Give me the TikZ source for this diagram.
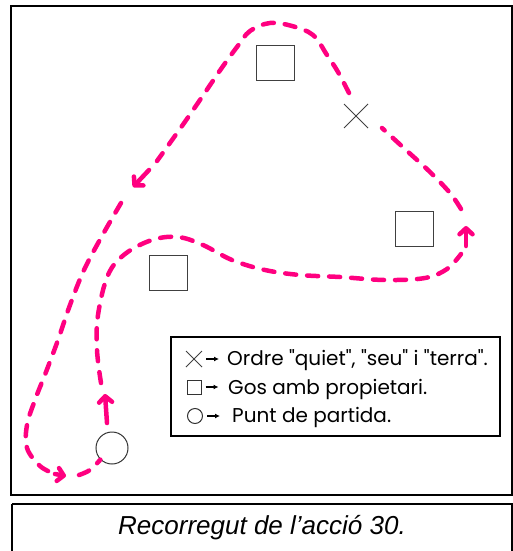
\documentclass[tikz,border=0pt]{standalone}
\usepackage{fontspec}
\setmainfont{Liberation Sans}
\newfontfamily\legendfont{Poppins}
\usetikzlibrary{arrows.meta,shapes.misc}
\definecolor{trackpink}{RGB}{255,0,128}
\definecolor{markgray}{RGB}{64,64,64}
\tikzset{
  track/.style={trackpink, line width=4.5pt, line cap=round, dash pattern=on 11pt off 11pt},
  trackarrow/.style={trackpink, line width=4.5pt, line cap=round,
    -{Straight Barb[length=6pt,width=13pt,round]}},
  owner/.style={draw=markgray, line width=1pt, minimum width=38pt, minimum height=35pt, inner sep=0pt},
  order/.style={cross out, draw=markgray, line width=1pt, minimum size=23pt, inner sep=0pt},
  origin/.style={circle, draw=black!80, line width=1pt, minimum size=32pt, inner sep=0pt},
  keyitem/.style={anchor=base west, inner sep=0pt, font=\legendfont\fontsize{20}{22}\selectfont},
}
\begin{document}
\begin{tikzpicture}[x=1pt, y=-1pt]
        \useasboundingbox (0,0) rectangle (513,551);
        % Frames
        \draw[line width=1.5pt] (11,6) rectangle (512,495);
        \draw[line width=1.5pt] (12,504) -- (12,551) (12,504) -- (512,504) -- (512,551);
        \node[font=\itshape\fontsize{26}{30}\selectfont] (caption) at (262,528) {Recorregut de l’acció 30.};

        % Marks
        \node[owner] (ownertop) at (275,63) {};
        \node[owner] (ownerright) at (414,229) {};
        \node[owner] (ownerleft) at (168,273) {};
        \node[order] (stop) at (356,116) {};
        \node[origin] (start) at (112,448) {};

        % Track of the dog
        \draw[trackarrow] (107,423) -- (105,394);
        \draw[track] plot[smooth, tension=0.6] coordinates {(101,383) (97,350) (98,315) (108,275) (125,254) (152,240) (178,237) (203,245) (232,260) (265,270) (300,275) (340,277) (385,280) (425,278) (447,269) (461,254)};
        \draw[trackarrow] (466,246) -- (466,226);
        \draw[track] plot[smooth, tension=0.6] coordinates {(461,209) (450,193) (430,172) (406,150) (382,128)};
        % gap at the order mark
        \draw[track] plot[smooth, tension=0.6] coordinates {(349,93) (338,72) (327,55) (313,35) (292,26) (270,23) (250,31) (237,47) (221,69) (202,97) (182,126) (157,161)};
        \draw[trackarrow] (149,170) -- (133,187);
        \draw[track] plot[smooth, tension=0.6] coordinates {(121,203) (102,236) (84,270) (70,305) (58,340) (46,372) (35,400) (27,425) (27,448) (40,466) (55,474)};
        \draw[trackarrow] (55,474) -- (66,476);
        \draw[track] plot[smooth, tension=0.6] coordinates {(79,475) (90,470) (start.south west)};

        % Legend
        \draw[line width=2pt] (171,337) rectangle (500,436);
        \node[order, minimum size=15pt] (keystop) at (194,359) {};
        \node[draw=black!80, line width=1pt, minimum size=14pt, inner sep=0pt] (keyowner) at (194,387) {};
        \node[circle, draw=black!80, line width=1pt, minimum size=15pt, inner sep=0pt] (keyorigin) at (195,416) {};
        \node[keyitem] (textstop) at (227,365) {Ordre "quiet", "seu" i "terra".};
        \node[keyitem] (textowner) at (228,394) {Gos amb propietari.};
        \node[keyitem] (textorigin) at (232,422) {Punt de partida.};
        \draw[-{Latex[length=5pt,width=5pt]}, line width=1.2pt] (keystop.east) ++(4,0) -- ++(13,0);
        \draw[-{Latex[length=5pt,width=5pt]}, line width=1.2pt] (keyowner.east) ++(4,0) -- ++(13,0);
        \draw[-{Latex[length=5pt,width=5pt]}, line width=1.2pt] (keyorigin.east) ++(4,0) -- ++(13,0);
\end{tikzpicture}
\end{document}
